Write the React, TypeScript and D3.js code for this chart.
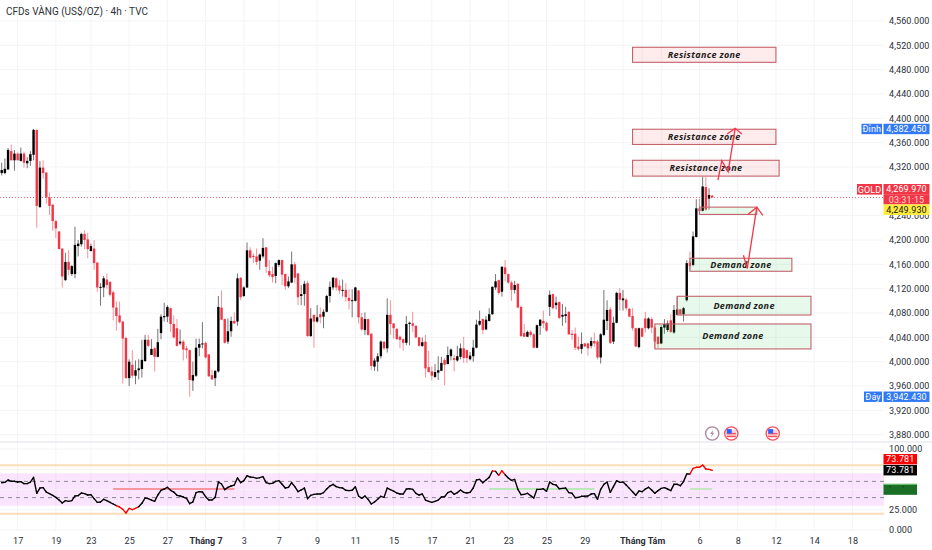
import { useEffect, useRef } from 'react';
import * as d3 from 'd3';

const title = 'CFDs VÀNG (US$/OZ) · 4h · TVC';

const opens = [
  4310,4310,4316,4346,4331,4342,4330,4342,4326,4330,
  4340,4381,4254,4319,4311,4270,4258,4231,4214,4186,
  4134,4164,4144,4144,4190,4193,4210,4201,4182,4186,
  4163,4122,4122,4135,4131,4114,4089,4076,4066,4039,
  3973,3995,3977,3986,3988,4001,4036,4011,4022,4008,
  4047,4073,4074,4088,4062,4055,4030,4033,4022,4019,
  3969,3977,4023,4029,4031,4012,3978,3973,3984,
  4089,4070,4033,4050,4067,4066,4138,4108,4122,4183,
  4174,4173,4166,4173,4188,4149,4144,4141,4159,4167,
  4144,4124,4130,4160,4145,4108,4111,4129,4042,4077,
  4066,4078,4074,4082,4108,4122,4137,4125,4117,4118,
  4105,4100,4100,4117,4073,4052,4070,4046,3992,4000,
  4009,4033,4022,4077,4063,4054,4041,4037,4031,4062,
  4063,4059,4040,4026,4033,3991,3984,3975,3982,3985,
  4003,3996,4009,4006,4002,4008,4022,4019,4004,4009,
  4023,4061,4070,4053,4067,4078,4122,4134,4115,4155,
  4144,4130,4118,4128,4090,4047,4041,4049,4045,4023,
  4059,4067,4064,4090,4111,4093,4098,4074,4075,4082,
  4046,4046,4025,4021,4030,4030,4026,4034,4033,4007,
  4044,4067,4086,4033,4064,4113,4101,4102,4087,4075,
  4055,4024,4055,4071,4055,4070,4056,4041,4030,4056,
  4052,4068,4048,4077,4086,4078,4101,4163,4159,4205,
  4252,4248,4287,4268,4273,
];
const highs = [
  4327,4334,4351,4357,4348,4344,4352,4345,4336,4346,
  4382.45,4381,4330,4331,4311,4278,4259,4233,4215,4186,
  4179,4183,4159,4222,4200,4212,4216,4212,4194,4200,
  4163,4129,4141,4145,4133,4117,4099,4099,4067,4041,
  4004,4019,4002,4004,4036,4044,4044,4037,4024,4054,
  4078,4097,4093,4089,4076,4070,4053,4036,4026,4020,
  4000,4038,4038,4065,4033,4012,3987,3986,4108,
  4117,4071,4071,4074,4081,4145,4139,4124,4196,4188,
  4178,4186,4178,4203,4188,4167,4156,4163,4168,4168,
  4145,4140,4181,4164,4146,4126,4133,4133,4088,4077,
  4093,4089,4086,4110,4132,4139,4139,4134,4135,4129,
  4119,4119,4123,4118,4080,4081,4071,4047,4006,4014,
  4035,4033,4104,4101,4063,4055,4043,4038,4075,4066,
  4082,4060,4041,4040,4044,4018,3992,3996,4009,4008,
  4006,4025,4022,4011,4026,4030,4041,4020,4016,4036,
  4069,4084,4071,4075,4088,4124,4144,4135,4157,4167,
  4145,4133,4133,4129,4092,4062,4051,4052,4047,4061,
  4070,4084,4066,4117,4112,4107,4099,4095,4090,4083,
  4052,4056,4041,4048,4031,4031,4040,4048,4036,4047,
  4118,4101,4090,4074,4115,4121,4118,4104,4088,4088,
  4056,4056,4056,4082,4073,4073,4059,4042,4060,4070,
  4068,4078,4093,4107,4087,4090,4167,4181,4214,4267,
  4268,4304,4304,4285,4274,
];
const lows = [
  4306,4308,4315,4331,4314,4331,4329,4319,4318,4322,
  4331,4220,4253,4301,4260,4241,4215,4203,4185,4122,
  4133,4142,4141,4137,4173,4189,4185,4170,4181,4151,
  4115,4092,4106,4120,4107,4068,4051,4063,3964,3972,
  3960,3973,3963,3971,3974,4000,4024,4011,3984,4007,
  4037,4066,4065,4049,4038,4025,4027,4002,4005,3942.43,
  3952,3975,4009,4022,4005,3975,3970,3960,3982,
  4068,4030,4029,4041,4062,4059,4101,4106,4121,4169,
  4162,4159,4151,4170,4146,4139,4130,4129,4156,4126,
  4118,4121,4129,4129,4093,4093,4092,4041,4041,4023,
  4064,4063,4055,4081,4097,4118,4117,4111,4107,4099,
  4086,4073,4099,4063,4051,4044,4043,3986,3985,3984,
  4005,4019,4015,4044,4038,4036,4022,4018,4027,4027,
  4049,4038,4025,4024,3974,3982,3969,3973,3970,3985,
  3961,3996,4002,3984,4000,4004,3998,3998,4002,4000,
  4022,4059,4045,4052,4066,4077,4118,4110,4107,4132,
  4128,4100,4112,4088,4041,4041,4041,4041,4022,4022,
  4044,4055,4049,4075,4086,4086,4070,4059,4064,4044,
  4036,4019,4018,4013,4024,4010,4022,4024,4004,3997,
  4042,4052,4029,4029,4063,4084,4084,4084,4073,4051,
  4024,4022,4040,4048,4053,4047,4022,4022,4029,4046,
  4049,4047,4046,4077,4076,4066,4099,4151,4157,4204,
  4244,4247,4248,4250,4269,
];
const closes = [
  4315,4317,4348,4331,4342,4331,4342,4327,4330,4341,
  4381,4256,4319,4310,4270,4256,4231,4219,4185,4140,
  4164,4151,4157,4192,4194,4210,4200,4185,4190,4162,
  4122,4123,4137,4126,4110,4089,4075,4065,4038,3973,
  4000,3977,3986,3989,4003,4036,4026,4021,4008,4032,
  4074,4075,4090,4062,4040,4026,4033,4020,4019,3970,
  3978,4023,4029,4030,4007,3976,3971,3985,4090,
  4069,4031,4050,4067,4063,4137,4106,4122,4183,4171,
  4172,4164,4176,4187,4156,4142,4139,4162,4167,4143,
  4124,4132,4160,4138,4106,4111,4128,4042,4071,4066,
  4073,4073,4082,4108,4123,4138,4122,4117,4118,4106,
  4100,4101,4122,4073,4053,4070,4044,3993,4002,4009,
  4033,4022,4077,4062,4055,4037,4036,4031,4062,4064,
  4059,4040,4026,4032,3989,3983,3977,3983,3986,3998,
  3995,4011,4020,4003,4009,4022,4006,4006,4010,4023,
  4061,4067,4052,4069,4078,4123,4132,4113,4156,4144,
  4130,4118,4126,4089,4042,4041,4049,4044,4023,4060,
  4069,4063,4051,4110,4088,4097,4072,4077,4078,4045,
  4044,4023,4021,4029,4025,4022,4034,4030,4007,4045,
  4069,4085,4031,4064,4113,4102,4104,4088,4074,4055,
  4025,4055,4041,4055,4071,4056,4033,4029,4057,4062,
  4063,4049,4085,4086,4078,4088,4162,4157,4206,4252,
  4248,4288,4250,4274,4269.97,
];

const rsiValues = [
  58.4,58.8,61.7,60.1,60.1,59.2,59.7,57.2,57.2,59.2,
  65,45.3,51.8,52.3,46.9,44.9,42.8,40.3,37,33.3,
  36.2,35.4,36.2,42,42.4,45.7,44.9,43.2,43.6,38.7,
  34.1,34.6,37.9,36.2,34.1,32.1,30,28.4,25.5,21,
  26.7,25.1,26.7,28.8,32.9,39.5,38.7,37,35.4,43.2,
  49,50.6,52.7,49,46.9,42.8,42,40.7,39.1,32.5,
  34.6,46.1,47.3,46.9,41.1,37,37,40.3,59.2,56.8,
  49.8,52.7,54.3,55.5,64.2,58.4,60.9,67,65.4,65,
  63.8,64.6,65.8,58.4,57.2,57.6,60.1,60.9,56.4,51.8,
  52.7,58.4,53.5,47.3,49.4,51.8,38.7,
  42.8,44,44.4,44.4,46.1,50.6,54.3,56.4,53.5,52.3,51.8,
  49,48.6,49,53.5,42,39.1,42,37.9,32.1,34.6,
  37.9,41.6,40.3,51.8,49.8,48.1,45.7,44.4,44.4,50.6,
  51,50.2,45.3,43.2,44.4,37,35.4,34.1,35.4,37,
  40.7,41.1,46.1,47.7,44,46.1,49.4,46.5,45.7,46.5,
  51.8,61.7,62.5,58.4,61.7,65,72.8,72.4,67.5,73.2,
  68.3,64.2,61.3,62.5,50.2,43.6,44,45.3,42.4,39.5,
  50.2,50.2,51,47.7,59.2,56.4,55.5,51,51.4,51.8,
  46.1,45.3,39.9,40.3,41.6,41.6,42,44.4,44.9,37.9,
  50.2,56.4,59.2,46.5,53.5,60.9,58.8,
  59.3,55.6,51.4,47.3,42.8,48.1,47.3,50.6,52.7,49.4,
  45.3,48.6,51.4,52.3,50.6,48.6,56.4,56.4,54.7,59.7,
  69.1,69.1,76.1,77.4,77.4,80.2,75.3,74.9,73.781,
];

const priceTicks = d3.range(3880, 4561, 40);
// 4,280 sits behind the GOLD tag, so only its grid line shows
const priceLabelTicks = priceTicks.filter((d) => d !== 4280);
const rsiTicks = [100, 25, 0];
const rsiGrid = [100, 75, 50, 25, 0];
const timeTickIndex = [5,17,28,40,52,64,76,87,99,111,123,135,147,159,171,183,195,201,207,219,231,243,255,267];
const timeTickLabel = ['17','19','23','25','27','Tháng 7','3','7','9','11','15','17','21','23','25','29','','Tháng Tám','','6','8','12','14','18'];

const zoneLabels = ['Resistance zone','Resistance zone','Resistance zone','','Demand zone','Demand zone','Demand zone'];
const zoneStart = [198,198,198,219,216,212,205];
const zoneEnd = [243,243,244,237,248,254,254];
const zoneTop = [4516.7,4382,4331,4254,4170,4107.5,4062];
const zoneBottom = [4492,4357,4305,4242,4148.6,4076.7,4021];
const zoneKind = ['r','r','r','d','d','d','d'];

const arrowPaths: [number, number][][] = [
  [[232.8,4175],[234,4153],[237,4254]],
  [[234.2,4242],[237,4254],[238.9,4240.6]],
  [[224.8,4298.6],[226,4330.3],[228,4312.2],[230.2,4383.6]],
  [[227.7,4374.2],[230.2,4383.6],[232.3,4374.2]],
];

const rsiLevelStart = [35,153,216];
const rsiLevelEnd = [73,186,223];
const rsiLevelColor = ['#f77c80','#a5e8a0','#a5e8a0'];
const rsiLevelValue = 50.6;

const eventIndex = [223,229,242];
const eventKind = ['bolt','flag','flag'];
const lastPrice = 4269.97;

const RED = '#f23645';
const FONT = 'Roboto, "Liberation Sans", sans-serif';

export default function App() {
  const ref = useRef<SVGSVGElement | null>(null);

  useEffect(() => {
    if (!ref.current) return;
    const svg = d3.select(ref.current);
    svg.selectAll('*').remove();

    const x = d3.scaleLinear().domain([0, 267]).range([1.7, 852.4]);
    const y = d3.scaleLinear().domain([4000, 4400]).range([361.7, 118.3]);
    const r = d3.scaleLinear().domain([0, 100]).range([530, 449]);
    const axisX = 884;
    const paneBottom = 441;

    // grid
    const grid = svg.append('g').attr('stroke', '#f3f4f6').attr('stroke-width', 1);
    grid.selectAll('.vg').data(timeTickIndex).join('line')
      .attr('x1', (d) => x(d)).attr('x2', (d) => x(d)).attr('y1', 0).attr('y2', 531);
    grid.selectAll('.hg').data(priceTicks).join('line')
      .attr('x1', 0).attr('x2', axisX).attr('y1', (d) => y(d)).attr('y2', (d) => y(d));
    grid.selectAll('.rg').data(rsiGrid).join('line')
      .attr('x1', 0).attr('x2', axisX).attr('y1', (d) => r(d)).attr('y2', (d) => r(d));

    svg.append('rect').attr('x', 0).attr('y', paneBottom).attr('width', 932).attr('height', 2).attr('fill', '#eef0f6');

    svg.append('text').attr('x', 6).attr('y', 15).attr('font-family', FONT).attr('font-size', 10)
      .attr('fill', '#2e3238').text(title);

    // last price line
    svg.append('line').attr('x1', 0).attr('x2', axisX).attr('y1', 197.5).attr('y2', 197.5)
      .attr('stroke', RED).attr('stroke-opacity', 0.75).attr('stroke-dasharray', '1,2');

    // candles
    const idx = d3.range(opens.length);
    const colorOf = (i: number) => (closes[i] >= opens[i] ? '#000000' : RED);
    svg.append('g').selectAll('line').data(idx).join('line')
      .attr('x1', (i) => x(i)).attr('x2', (i) => x(i))
      .attr('y1', (i) => y(highs[i])).attr('y2', (i) => y(lows[i]))
      .attr('stroke', colorOf).attr('stroke-opacity', 0.55).attr('stroke-width', 1);
    svg.append('g').selectAll('rect').data(idx).join('rect')
      .attr('x', (i) => x(i) - 1.2).attr('width', 2.4)
      .attr('y', (i) => y(Math.max(opens[i], closes[i])))
      .attr('height', (i) => Math.max(1, Math.abs(y(opens[i]) - y(closes[i]))))
      .attr('fill', colorOf);

    // zones
    const zones = svg.append('g').selectAll('g').data(zoneLabels.map((_, i) => i)).join('g');
    zones.append('rect')
      .attr('x', (i) => x(zoneStart[i])).attr('width', (i) => x(zoneEnd[i]) - x(zoneStart[i]))
      .attr('y', (i) => y(zoneTop[i])).attr('height', (i) => y(zoneBottom[i]) - y(zoneTop[i]))
      .attr('fill', (i) => (zoneKind[i] === 'r' ? '#f23645' : '#2fd05a'))
      .attr('fill-opacity', (i) => (zoneKind[i] === 'r' ? 0.1 : 0.12))
      .attr('stroke', '#c4636c').attr('stroke-width', 1.1);
    zones.append('text')
      .attr('x', (i) => (x(zoneStart[i]) + x(zoneEnd[i])) / 2)
      .attr('y', (i) => (y(zoneTop[i]) + y(zoneBottom[i])) / 2 + 3)
      .attr('text-anchor', 'middle')
      .attr('font-family', '"Open Sans", sans-serif').attr('font-size', 9).attr('font-weight', 700)
      .attr('font-style', 'italic').attr('letter-spacing', 0.35).attr('fill', '#1c1c20')
      .text((i) => zoneLabels[i]);

    // arrows
    const arrowLine = d3.line<[number, number]>().x((d) => x(d[0])).y((d) => y(d[1]));
    svg.append('g').selectAll('path').data(arrowPaths).join('path')
      .attr('d', (d) => arrowLine(d)).attr('fill', 'none').attr('stroke', '#f2364a')
      .attr('stroke-width', 1.3).attr('stroke-linejoin', 'miter');

    // price axis
    const priceAxis = svg.append('g').attr('transform', `translate(${axisX},0)`)
      .call(d3.axisRight(y).tickValues(priceLabelTicks).tickSize(0).tickPadding(5).tickFormat((d) => d3.format(',.3f')(d as number)));
    priceAxis.select('.domain').remove();
    priceAxis.selectAll('text').attr('font-family', FONT).attr('font-size', 9).attr('letter-spacing', 0.1).attr('fill', '#2a2e39');

    // events
    const events = svg.append('g').selectAll('g').data(eventIndex).join('g')
      .attr('transform', (d) => `translate(${x(d)},${y(3882)})`);
    events.append('circle').attr('r', 6.6).attr('fill', '#fff')
      .attr('stroke', (_, i) => (eventKind[i] === 'bolt' ? '#a98b9e' : '#f7525f')).attr('stroke-width', 1.4);
    events.filter((_, i) => eventKind[i] === 'bolt').append('path')
      .attr('d', 'M1.2 -3.8 L-2 0.6 L-0.2 0.6 L-1.2 3.8 L2 -0.8 L0.2 -0.8 Z').attr('fill', '#a98b9e');
    const flags = events.filter((_, i) => eventKind[i] === 'flag');
    flags.append('rect').attr('x', -4.6).attr('y', -4).attr('width', 9.2).attr('height', 8).attr('fill', '#fbd5d8');
    flags.append('rect').attr('x', -4.6).attr('y', -0.6).attr('width', 9.2).attr('height', 1.4).attr('fill', '#f7525f');
    flags.append('rect').attr('x', -4.6).attr('y', 2.2).attr('width', 9.2).attr('height', 1.4).attr('fill', '#f7525f');
    flags.append('rect').attr('x', -4.6).attr('y', -4.4).attr('width', 5).attr('height', 4.4).attr('fill', '#2962ff');

    // rsi pane
    svg.append('rect').attr('x', 0).attr('width', axisX).attr('y', r(70)).attr('height', r(30) - r(70))
      .attr('fill', '#e040fb').attr('fill-opacity', 0.14);
    svg.append('g').selectAll('line').data([80, 20]).join('line')
      .attr('x1', 0).attr('x2', axisX).attr('y1', (d) => r(d)).attr('y2', (d) => r(d))
      .attr('stroke', '#fddcb8').attr('stroke-width', 2);
    svg.append('g').selectAll('line').data([60, 40]).join('line')
      .attr('x1', 0).attr('x2', axisX).attr('y1', (d) => r(d)).attr('y2', (d) => r(d))
      .attr('stroke', '#8b8b93').attr('stroke-dasharray', '4,4');
    svg.append('line').attr('x1', 0).attr('x2', axisX).attr('y1', r(50)).attr('y2', r(50))
      .attr('stroke', '#fff').attr('stroke-opacity', 0.5);
    svg.append('g').selectAll('line').data(rsiLevelStart.map((_, i) => i)).join('line')
      .attr('x1', (i) => x(rsiLevelStart[i])).attr('x2', (i) => x(rsiLevelEnd[i]))
      .attr('y1', r(rsiLevelValue)).attr('y2', r(rsiLevelValue))
      .attr('stroke', (i) => rsiLevelColor[i]).attr('stroke-width', 1.3);

    const rsiLine = d3.line<number>().x((d) => x(d)).y((d) => r(rsiValues[d]));
    svg.append('g').selectAll('path').data(d3.pairs(d3.range(rsiValues.length))).join('path')
      .attr('d', (d) => rsiLine(d))
      .attr('fill', 'none').attr('stroke-width', 1.4).attr('stroke-linecap', 'round')
      .attr('stroke', (d) => {
        const m = (rsiValues[d[0]] + rsiValues[d[1]]) / 2;
        return m >= 70 || m <= 30 ? '#ff0000' : '#000000';
      });

    const rsiAxis = svg.append('g').attr('transform', `translate(${axisX},0)`)
      .call(d3.axisRight(r).tickValues(rsiTicks).tickSize(0).tickPadding(5).tickFormat((d) => d3.format('.3f')(d as number)));
    rsiAxis.select('.domain').remove();
    rsiAxis.selectAll('text').attr('font-family', FONT).attr('font-size', 9).attr('letter-spacing', 0.1).attr('fill', '#2a2e39');
    svg.append('rect').attr('x', axisX).attr('y', 533.5).attr('width', 48).attr('height', 16).attr('fill', '#fff');

    // time axis
    const timeAxis = svg.append('g').attr('transform', 'translate(0,530)')
      .call(d3.axisBottom(x).tickValues(timeTickIndex).tickSize(0).tickPadding(8)
        .tickFormat((_, i) => timeTickLabel[i]));
    timeAxis.select('.domain').remove();
    timeAxis.selectAll('text').attr('font-family', FONT).attr('font-size', 9).attr('fill', '#2a2e39');
    timeAxis.selectAll('text').filter((d) => d === 64 || d === 201).attr('font-weight', 700);

    // right scale tags
    const tag = (x0: number, w: number, top: number, h: number, fill: string, label: string, color: string) => {
      svg.append('rect').attr('x', x0).attr('y', top).attr('width', w).attr('height', h).attr('fill', fill);
      svg.append('text').attr('x', x0 + w / 2).attr('y', top + h / 2 + 3.2).attr('text-anchor', 'middle')
        .attr('font-family', FONT).attr('font-size', 9).attr('letter-spacing', 0.1).attr('fill', color).text(label);
    };
    const priceFmt = d3.format(',.3f');
    const hiP = d3.max(highs) as number;
    const loP = d3.min(lows) as number;
    tag(861.5, 20.5, y(hiP) - 5.2, 10.4, '#3179f5', 'Đỉnh', '#fff');
    tag(883.5, 46, y(hiP) - 5.2, 10.4, '#3179f5', priceFmt(hiP), '#fff');
    tag(864, 18, y(loP) - 5.2, 10.4, '#3179f5', 'Đáy', '#fff');
    tag(883.5, 46, y(loP) - 5.2, 10.4, '#3179f5', priceFmt(loP), '#fff');
    tag(857, 25, 184, 10.6, RED, 'GOLD', '#fff');
    tag(883.5, 46, 184, 10.2, RED, priceFmt(lastPrice), '#fff');
    tag(883.5, 46, 194.2, 10.2, RED, '03:31:15', '#ffd6da');
    tag(883.5, 46, 204.4, 10.6, '#ffeb3b', priceFmt(4249.93), '#131722');

    const rsiLast = rsiValues[rsiValues.length - 1];
    tag(883.5, 33.5, 454, 10.4, '#ff0000', d3.format('.3f')(rsiLast), '#fff');
    tag(883.5, 33.5, 465, 10.4, '#000000', d3.format('.3f')(rsiLast), '#fff');
    svg.append('rect').attr('x', 883.5).attr('y', r(57)).attr('width', 33.5).attr('height', 11)
      .attr('fill', '#1b6e26');
    svg.append('rect').attr('x', 883.5).attr('y', r(57)).attr('width', 33.5).attr('height', 0.8)
      .attr('fill', '#90ee90');
    svg.append('g').selectAll('circle').data([890, 903]).join('circle')
      .attr('cx', (d) => d).attr('cy', r(57) + 3).attr('r', 0.5).attr('fill', '#000');
  }, []);

  return <svg ref={ref} width={932} height={550} style={{ position: 'absolute', left: 0, top: 0, display: 'block', background: '#fff' }} />;
}
